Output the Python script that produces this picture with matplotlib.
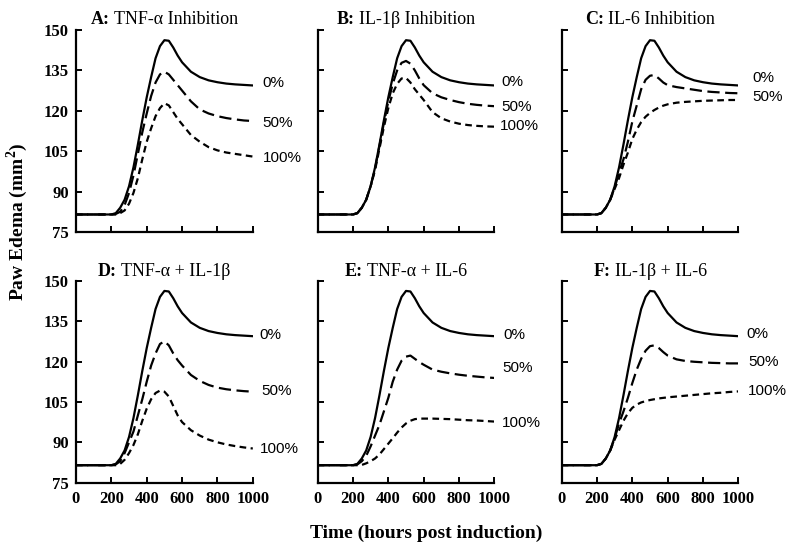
import matplotlib
matplotlib.use("Agg")
import matplotlib.pyplot as plt
from matplotlib.offsetbox import TextArea, HPacker, AnnotationBbox

plt.rcParams['font.family'] = ['Liberation Serif', 'DejaVu Serif']
plt.rcParams['mathtext.fontset'] = 'custom'
plt.rcParams['mathtext.rm'] = 'Liberation Serif'
plt.rcParams['mathtext.bf'] = 'Liberation Serif:bold'

# time points (hours post induction)
TIME = [0, 200, 225, 250, 275, 300, 325, 350, 375, 400, 425, 450, 475, 500,
        525, 550, 575, 600, 650, 700, 750, 800, 850, 900, 950, 1000]

# 0% inhibition, same in every panel
CONTROL = [81.5, 81.5, 82, 84, 87, 92, 99, 107.5, 116.5, 125, 132.5, 139.5, 144, 146.2,
           146, 143.5, 140.5, 138, 134.5, 132.5, 131.3, 130.6, 130.1, 129.8, 129.6, 129.4]

TNF_50 = [81.5, 81.5, 81.7, 82.5, 85, 89.5, 96, 104, 112, 119, 125.5, 130.5, 133.5, 134.5,
          133.5, 131.5, 129.5, 127.5, 123.5, 120.5, 119, 118, 117.3, 116.8, 116.4, 116.2]
TNF_100 = [81.5, 81.5, 81.5, 82, 83, 85.5, 89.5, 95, 102, 108.5, 113.5, 118, 121, 122.8,
           122, 119.5, 117, 115, 111, 108.5, 106.5, 105.3, 104.5, 104, 103.5, 103]

IL1_50 = [81.5, 81.5, 82, 84, 87, 92, 98.5, 107, 115.5, 123.5, 130, 135, 137.8, 138.5,
          137.5, 135, 132, 129.5, 126.5, 125, 124, 123.2, 122.6, 122.2, 121.9, 121.7]
IL1_100 = [81.5, 81.5, 82, 84, 87, 92, 98, 106, 114, 121, 126.5, 130, 132, 132.2,
           130.5, 128, 126, 124, 119.5, 117.2, 116, 115.2, 114.7, 114.4, 114.2, 114.1]

IL6_50 = [81.5, 81.5, 82, 84, 87, 91.5, 97, 102, 108.5, 116, 122, 128, 131.5, 133,
          133.3, 132, 130.5, 129.5, 128.8, 128.3, 127.8, 127.3, 127, 126.8, 126.6, 126.5]
IL6_100 = [81.5, 81.5, 82, 84, 87, 91, 95, 100, 104.5, 109.5, 113, 115.8, 117.8, 119.2,
           120.3, 121.2, 121.9, 122.4, 123, 123.3, 123.5, 123.7, 123.8, 123.9, 124, 124]

TNF_IL1_50 = [81.5, 81.5, 81.8, 83, 86, 90, 94, 100, 106, 112.5, 118.5, 123, 126.5, 127.5,
              126, 123, 120.5, 118.5, 115, 112.8, 111.3, 110.3, 109.7, 109.3, 109, 108.8]
TNF_IL1_100 = [81.5, 81.5, 81.5, 82, 83.5, 86, 89, 93, 98, 102.5, 106, 108.3, 109.2, 108.8,
               107, 103.5, 100, 97.5, 94.5, 92.5, 91, 90, 89.2, 88.6, 88.1, 87.7]

TNF_IL6_50 = [81.5, 81.5, 81.8, 83, 85, 88.5, 92.5, 96.5, 101.5, 106.5, 112.5, 117, 120.3, 121.8,
              122.2, 121, 119.8, 118.8, 117, 116.2, 115.6, 115.1, 114.7, 114.4, 114.1, 113.9]
TNF_IL6_100 = [81.5, 81.5, 81.5, 81.6, 82.2, 83, 84, 85.5, 87.5, 89.5, 91.5, 93.6, 95.5, 97,
               98, 98.6, 98.8, 98.8, 98.8, 98.7, 98.6, 98.4, 98.2, 98.1, 97.9, 97.7]

IL1_IL6_50 = [81.5, 81.5, 82, 84, 87, 91.5, 97, 101.5, 106.5, 112, 117, 121, 124, 125.7,
              126, 125, 123.5, 122.2, 120.8, 120.2, 119.9, 119.7, 119.5, 119.4, 119.3, 119.3]
IL1_IL6_100 = [81.5, 81.5, 82, 84, 87, 91, 94.5, 98, 100.8, 102.8, 104, 104.8, 105.3, 105.7,
               106, 106.3, 106.5, 106.7, 107, 107.3, 107.6, 107.9, 108.2, 108.4, 108.7, 108.9]

TAGS = ["A:", "B:", "C:", "D:", "E:", "F:"]
NAMES = ["TNF-α Inhibition", "IL-1β Inhibition", "IL-6 Inhibition",
         "TNF-α + IL-1β", "TNF-α + IL-6", "IL-1β + IL-6"]
SERIES_50 = [TNF_50, IL1_50, IL6_50, TNF_IL1_50, TNF_IL6_50, IL1_IL6_50]
SERIES_100 = [TNF_100, IL1_100, IL6_100, TNF_IL1_100, TNF_IL6_100, IL1_IL6_100]

# where the percent labels sit: (x, y, text)
LABELS = [
    [(1055, 130.3, "0%"), (1055, 115.5, "50%"), (1055, 102.5, "100%")],
    [(1040, 130.7, "0%"), (1040, 121.4, "50%"), (1030, 114.4, "100%")],
    [(1078, 132.2, "0%"), (1078, 125.1, "50%")],
    [(1040, 130.0, "0%"), (1050, 108.9, "50%"), (1040, 87.5, "100%")],
    [(1050, 130.0, "0%"), (1045, 117.6, "50%"), (1040, 97.2, "100%")],
    [(1045, 130.3, "0%"), (1055, 119.7, "50%"), (1055, 108.9, "100%")],
]

LEFTS = [0.095, 0.397, 0.702]
BOTTOMS = [0.5805, 0.1271]
W, H = 0.221, 0.3653


def add_title(ax, tag, name, pad):
    # bold panel letter, plain title text
    box = HPacker(children=[TextArea(tag, textprops=dict(fontsize=13, fontweight="bold")),
                            TextArea(name, textprops=dict(fontsize=13))],
                  pad=0, sep=3, align="baseline")
    ab = AnnotationBbox(box, (0.5, 1.0), xycoords="axes fraction", xybox=(0, pad),
                        boxcoords="offset points", box_alignment=(0.5, 0),
                        frameon=False, pad=0, annotation_clip=False)
    ax.add_artist(ab)


def main():
    fig = plt.figure(figsize=(8, 5.53), dpi=100)

    for i in range(6):
        row, col = divmod(i, 3)
        ax = fig.add_axes([LEFTS[col], BOTTOMS[row], W, H])

        ax.plot(TIME, CONTROL, color="black", lw=1.6)
        ax.plot(TIME, SERIES_50[i], color="black", lw=1.6, dashes=(5.5, 2.5))
        ax.plot(TIME, SERIES_100[i], color="black", lw=1.6, dashes=(3, 2))

        for x, y, s in LABELS[i]:
            ax.text(x, y, s, fontsize=11, va="center", ha="left",
                    family="Liberation Sans", clip_on=False)

        ax.set_xlim(0, 1000)
        ax.set_ylim(75, 150)
        ax.set_xticks([0, 200, 400, 600, 800, 1000])
        ax.set_yticks([75, 90, 105, 120, 135, 150])
        for s in ["top", "right"]:
            ax.spines[s].set_visible(False)
        for s in ["left", "bottom"]:
            ax.spines[s].set_linewidth(1.6)
        ax.tick_params(direction="in", length=4, width=1.4, labelsize=12)
        ax.tick_params(axis="x", pad=6)
        ax.tick_params(axis="y", pad=5)
        for lab in ax.get_xticklabels() + ax.get_yticklabels():
            lab.set_fontweight("bold")
        if row == 0:
            ax.set_xticklabels([])
        if col > 0:
            ax.set_yticklabels([])

        add_title(ax, TAGS[i], NAMES[i], 1.5 if row == 0 else 0.5)

    fig.text(0.533, 0.036, "Time (hours post induction)", fontsize=14,
             fontweight="bold", ha="center", va="center")
    fig.text(0.022, 0.598, r"Paw Edema (mm$^{\mathbf{2}}$)", fontsize=14,
             fontweight="bold", ha="center", va="center", rotation=90)

    fig.savefig("out.png", dpi=100)


if __name__ == "__main__":
    main()
